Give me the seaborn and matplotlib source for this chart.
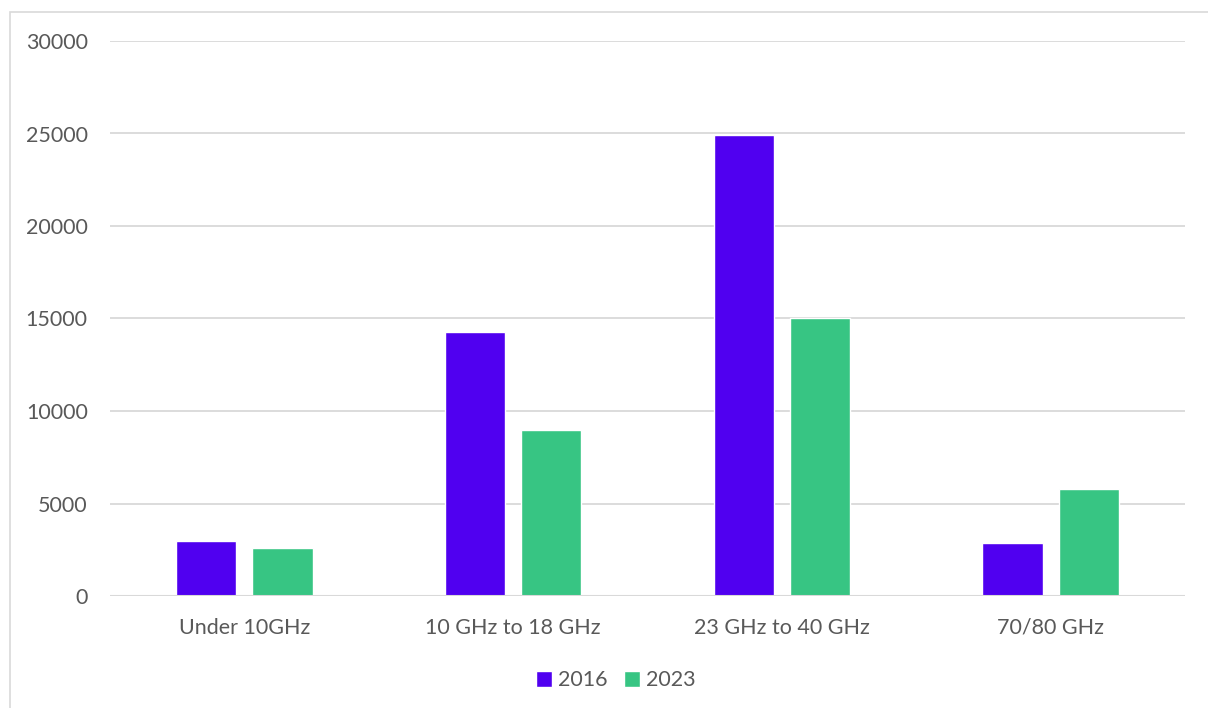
import pandas as pd
import seaborn as sns
import matplotlib.pyplot as plt
from matplotlib.patches import Rectangle

bands = ["Under 10GHz", "10 GHz to 18 GHz", "23 GHz to 40 GHz", "70/80 GHz"]
years = ["2016", "2023"]
values_2016 = [3000, 14250, 24900, 2850]
values_2023 = [2600, 9000, 15000, 5800]

df = pd.DataFrame({
    "band": bands * 2,
    "year": [years[0]] * 4 + [years[1]] * 4,
    "value": values_2016 + values_2023,
})

sns.set_style("white")
plt.rcParams["font.family"] = ["Lato", "DejaVu Sans"]
text_color = "#595959"
fs = 15.5

fig = plt.figure(figsize=(12.08, 7.08), dpi=100)
ax = fig.add_axes([110 / 1208, 1 - 596 / 708, 1075 / 1208, 555 / 708])

sns.barplot(data=df, x="band", y="value", hue="year", order=bands,
            palette={"2016": "#5000F0", "2023": "#37C583"}, saturation=1,
            width=0.567, gap=0.21, ax=ax, legend=True)

ax.set_ylim(0, 30000)
ax.set_xlim(-0.5, 3.5)
ax.set_yticks(range(0, 30001, 5000))
ax.yaxis.grid(True, color="#d9d9d9", linewidth=1.3)
ax.set_axisbelow(True)
for s in ax.spines.values():
    s.set_visible(False)
ax.axhline(0, color="#d9d9d9", linewidth=1.5, zorder=1)
ax.set_xlabel("")
ax.set_ylabel("")
ax.tick_params(axis="both", length=0, labelsize=fs, colors=text_color)
ax.tick_params(axis="y", pad=16)
ax.tick_params(axis="x", pad=15.5)

leg = ax.legend(loc="center", bbox_to_anchor=(0.4707, -0.152), ncol=2, frameon=False,
                fontsize=fs, handlelength=0.72, handleheight=0.72, handletextpad=0.3,
                columnspacing=0.75)
for t in leg.get_texts():
    t.set_color(text_color)

fig.patches.append(Rectangle((10 / 1208, -0.01), 1.02, 1 - 12 / 708 + 0.01,
                             transform=fig.transFigure, fill=False,
                             edgecolor="#d9d9d9", linewidth=1.2))

fig.savefig("out.png", dpi=100)
